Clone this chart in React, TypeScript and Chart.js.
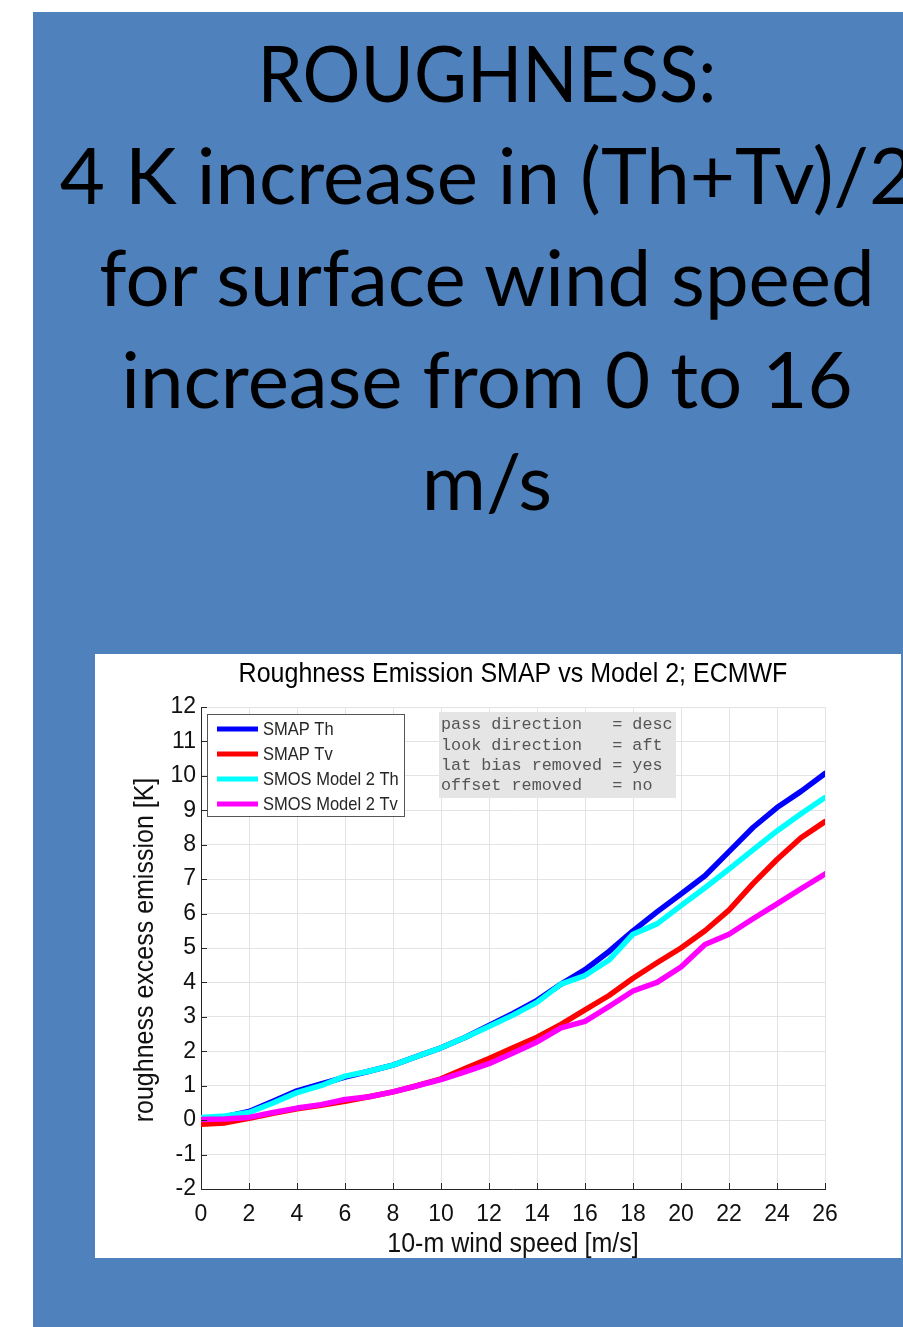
import React, { useEffect, useRef } from "react";
import { Chart, registerables } from "chart.js";

Chart.register(...registerables);

// ---- data ----
const windSpeed = [0, 1, 2, 3, 4, 5, 6, 7, 8, 9, 10, 11, 12, 13, 14, 15, 16, 17, 18, 19, 20, 21, 22, 23, 24, 25, 26];
const smapTh = [0.05, 0.1, 0.25, 0.55, 0.85, 1.05, 1.25, 1.42, 1.6, 1.85, 2.1, 2.4, 2.75, 3.1, 3.48, 3.95, 4.37, 4.9, 5.5, 6.05, 6.57, 7.1, 7.8, 8.5, 9.08, 9.55, 10.07];
const smapTv = [-0.12, -0.08, 0.05, 0.2, 0.33, 0.43, 0.55, 0.68, 0.82, 1.0, 1.2, 1.5, 1.79, 2.1, 2.41, 2.78, 3.2, 3.62, 4.12, 4.57, 5.0, 5.5, 6.1, 6.87, 7.57, 8.2, 8.67];
const smosTh = [0.08, 0.12, 0.22, 0.5, 0.8, 1.0, 1.28, 1.42, 1.6, 1.85, 2.1, 2.4, 2.72, 3.05, 3.42, 3.95, 4.2, 4.65, 5.4, 5.7, 6.23, 6.75, 7.29, 7.85, 8.4, 8.9, 9.37];
const smosTv = [0.02, 0.03, 0.08, 0.22, 0.35, 0.45, 0.6, 0.68, 0.82, 1.0, 1.18, 1.4, 1.64, 1.95, 2.27, 2.68, 2.87, 3.3, 3.75, 4.0, 4.45, 5.1, 5.4, 5.85, 6.28, 6.72, 7.15];

const seriesLabels = ["SMAP Th", "SMAP Tv", "SMOS Model 2 Th", "SMOS Model 2 Tv"];
const seriesColors = ["#0000ff", "#ff0000", "#00ffff", "#ff00ff"];
const seriesValues = [smapTh, smapTv, smosTh, smosTv];

const xRange = [0, 26];
const xStep = 2;
const yRange = [-2, 12];
const yStep = 1;

const chartTitle = "Roughness Emission SMAP vs Model 2; ECMWF";
const xTitle = "10-m wind speed [m/s]";
const yTitle = "roughness excess emission [K]";
const infoLines = [
  "pass direction   = desc",
  "look direction   = aft",
  "lat bias removed = yes",
  "offset removed   = no",
];
const headerLines = [
  "ROUGHNESS:",
  "4 K increase in (Th+Tv)/2",
  "for surface wind speed",
  "increase from 0 to 16",
  "m/s",
];

const SANS = '"Liberation Sans", Arial, Helvetica, sans-serif';
const MONO = '"Liberation Mono", "Courier New", monospace';
const VSTRETCH = 1.12;

function stretchedText(ctx: any, text: string, x: number, y: number) {
  ctx.save();
  ctx.translate(x, y);
  ctx.scale(1, VSTRETCH);
  ctx.fillText(text, 0, 0);
  ctx.restore();
}

const decorPlugin = {
  id: "matlabDecor",
  afterDraw(chart: any) {
    const { ctx, chartArea: ca, scales } = chart;
    const xs = scales.x;
    const ys = scales.y;
    ctx.save();

    // inward ticks (MATLAB style)
    ctx.strokeStyle = "#262626";
    ctx.lineWidth = 1;
    ctx.beginPath();
    xs.ticks.forEach((t: any) => {
      const px = Math.round(xs.getPixelForValue(t.value)) + 0.5;
      ctx.moveTo(px, ca.bottom);
      ctx.lineTo(px, ca.bottom - 6);
    });
    ys.ticks.forEach((t: any) => {
      const py = Math.round(ys.getPixelForValue(t.value)) + 0.5;
      ctx.moveTo(ca.left, py);
      ctx.lineTo(ca.left + 6, py);
    });
    ctx.stroke();

    // titles
    ctx.fillStyle = "#000";
    ctx.textAlign = "center";
    ctx.textBaseline = "middle";
    ctx.font = `25px ${SANS}`;
    const cx = (ca.left + ca.right) / 2;
    stretchedText(ctx, chartTitle, cx, 20);
    ctx.fillStyle = "#111";
    stretchedText(ctx, xTitle, cx, 590);
    ctx.save();
    ctx.translate(50, (ca.top + ca.bottom) / 2 + 2);
    ctx.rotate(-Math.PI / 2);
    ctx.scale(1, VSTRETCH);
    ctx.fillText(yTitle, 0, 0);
    ctx.restore();

    // legend box
    const lx = ca.left + 6;
    const ly = ca.top + 7;
    const lw = 197;
    const lh = 102;
    ctx.fillStyle = "#fff";
    ctx.fillRect(lx, ly, lw, lh);
    ctx.strokeStyle = "#555";
    ctx.lineWidth = 1;
    ctx.strokeRect(lx + 0.5, ly + 0.5, lw, lh);
    ctx.font = `16.5px ${SANS}`;
    ctx.textAlign = "left";
    ctx.textBaseline = "middle";
    seriesLabels.forEach((lab, i) => {
      const ry = ly + 15 + i * 25;
      ctx.strokeStyle = seriesColors[i];
      ctx.lineWidth = 5;
      ctx.beginPath();
      ctx.moveTo(lx + 10, ry);
      ctx.lineTo(lx + 51, ry);
      ctx.stroke();
      ctx.fillStyle = "#262626";
      stretchedText(ctx, lab, lx + 56, ry + 1);
    });

    // info box
    const bx = ca.left + 238;
    const by = ca.top + 5;
    ctx.fillStyle = "#e5e5e5";
    ctx.fillRect(bx, by, 237, 86);
    ctx.fillStyle = "#555";
    ctx.font = `16.8px ${MONO}`;
    infoLines.forEach((t, i) => {
      ctx.fillText(t, bx + 2, by + 13 + i * 20.3);
    });

    ctx.restore();
  },
};

function ChartCanvas() {
  const ref = useRef<HTMLCanvasElement | null>(null);
  useEffect(() => {
    if (!ref.current) return;
    const datasets = seriesLabels.map((label, i) => ({
      label,
      data: windSpeed.map((x, j) => ({ x, y: seriesValues[i][j] })),
      borderColor: seriesColors[i],
      backgroundColor: seriesColors[i],
      borderWidth: 5.5,
      pointRadius: 0,
      tension: 0,
      fill: false,
      order: seriesLabels.length - i,
      borderJoinStyle: "round" as const,
      borderCapStyle: "round" as const,
    }));
    const chart = new Chart(ref.current, {
      type: "line",
      data: { datasets },
      options: {
        animation: false,
        responsive: false,
        maintainAspectRatio: false,
        layout: { padding: { left: 0, top: 53, right: 76, bottom: 0 } },
        plugins: {
          legend: { display: false },
          title: { display: false },
          tooltip: { enabled: false },
        },
        scales: {
          x: {
            type: "linear",
            min: xRange[0],
            max: xRange[1],
            ticks: {
              stepSize: xStep,
              color: "#111",
              font: { size: 23, family: SANS },
              padding: 12,
              maxRotation: 0,
            },
            grid: { color: "#e3e3e3", lineWidth: 1, drawTicks: false },
            border: { display: true, color: "#262626", width: 1 },
            afterFit: (s: any) => {
              s.height = 69;
            },
          },
          y: {
            type: "linear",
            min: yRange[0],
            max: yRange[1],
            ticks: {
              stepSize: yStep,
              color: "#111",
              font: { size: 23, family: SANS },
              padding: 5,
            },
            grid: { color: "#e3e3e3", lineWidth: 1, drawTicks: false },
            border: { display: true, color: "#262626", width: 1 },
            afterFit: (s: any) => {
              s.width = 106;
            },
          },
        },
      },
      plugins: [decorPlugin],
    });
    return () => chart.destroy();
  }, []);
  return (
    <canvas
      ref={ref}
      width={806}
      height={604}
      style={{ position: "absolute", left: 95, top: 654, width: 806, height: 604, background: "#fff" }}
    />
  );
}

export default function App() {
  return (
    <div>
      <div
        style={{
          position: "absolute",
          left: 33,
          top: 12,
          width: 870,
          height: 1315,
          background: "#4f81bd",
          overflow: "hidden",
        }}
      >
        <div
          style={{
            position: "absolute",
            left: 487 - 33 - 600,
            top: 9,
            width: 1200,
            textAlign: "center",
            fontFamily: "Lato, sans-serif",
            fontSize: 78,
            lineHeight: "102px",
            color: "#000",
            whiteSpace: "nowrap",
          }}
        >
          {headerLines.map((l, i) => (
            <div key={i} style={i === 0 ? { transform: "scaleX(0.93)" } : undefined}>
              {l}
            </div>
          ))}
        </div>
      </div>
      <ChartCanvas />
    </div>
  );
}
